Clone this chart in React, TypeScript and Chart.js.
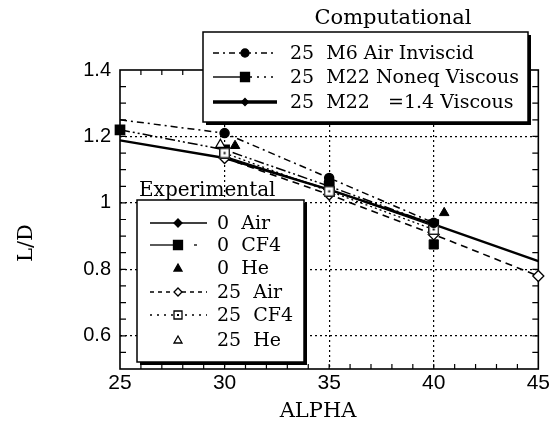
import React, { useEffect, useRef } from 'react';
import { Chart, registerables } from 'chart.js';

Chart.register(...registerables);

// ---- tick labels ----
const xTickValues = [25, 30, 35, 40, 45];
const xTickLabels = ['25', '30', '35', '40', '45'];
const yTickValues = [0.6, 0.8, 1.0, 1.2, 1.4];
const yTickLabels = ['0.6', '0.8', '1', '1.2', '1.4'];

// ---- computational (alpha = 25 deg sideslip series) ----
const compAlpha = [25, 30, 35, 40, 45];
const m6AirInviscid = [1.25, 1.21, 1.075, 0.94, null];
const m22NoneqViscous = [1.22, 1.16, 1.05, 0.935, null];
const m22Gamma14Viscous = [1.188, 1.135, 1.04, 0.935, 0.825];

// ---- experimental ----
const air0Alpha = [30, 35, 40];
const air0LD = [1.14, 1.04, 0.93];
const cf40Alpha = [30, 35, 40];
const cf40LD = [1.155, 1.055, 0.875];
const he0Alpha = [30.5, 40.5];
const he0LD = [1.172, 0.97];
const air25Alpha = [30, 35, 40, 45];
const air25LD = [1.135, 1.025, 0.905, 0.78];
const cf425Alpha = [30, 35, 40];
const cf425LD = [1.15, 1.035, 0.92];
const he25Alpha = [29.8];
const he25LD = [1.175];

const compTitle = 'Computational';
const compLabels = ['25  M6 Air Inviscid', '25  M22 Noneq Viscous', '25  M22   =1.4 Viscous'];
const expTitle = 'Experimental';
const expLabels = ['0  Air', '0  CF4', '0  He', '25  Air', '25  CF4', '25  He'];
const xTitle = 'ALPHA';
const yTitle = 'L/D';

const SERIF = '"DejaVu Serif", serif';
const SANS = '"Liberation Sans", Arial, sans-serif';

const pts = (xs: number[], ys: (number | null)[]) => xs.map((x, i) => ({ x, y: ys[i] }));

function makeDotSquare(): HTMLCanvasElement {
  const c = document.createElement('canvas');
  c.width = 11;
  c.height = 11;
  const g = c.getContext('2d')!;
  g.fillStyle = '#fff';
  g.fillRect(0, 0, 11, 11);
  g.strokeStyle = '#000';
  g.lineWidth = 1.3;
  g.strokeRect(0.75, 0.75, 9.5, 9.5);
  g.fillStyle = '#000';
  g.fillRect(4.5, 4.5, 2, 2);
  return c;
}

function marker(ctx: CanvasRenderingContext2D, kind: string, x: number, y: number, r: number, filled: boolean) {
  ctx.save();
  ctx.setLineDash([]);
  ctx.lineWidth = 1.3;
  ctx.strokeStyle = '#000';
  ctx.fillStyle = filled ? '#000' : '#fff';
  ctx.beginPath();
  if (kind === 'circle') ctx.arc(x, y, r, 0, Math.PI * 2);
  else if (kind === 'rect') ctx.rect(x - r, y - r, 2 * r, 2 * r);
  else if (kind === 'diamond') {
    ctx.moveTo(x, y - r); ctx.lineTo(x + r, y); ctx.lineTo(x, y + r); ctx.lineTo(x - r, y); ctx.closePath();
  } else if (kind === 'triangle') {
    ctx.moveTo(x, y - r); ctx.lineTo(x + r, y + r * 0.75); ctx.lineTo(x - r, y + r * 0.75); ctx.closePath();
  }
  ctx.fill();
  ctx.stroke();
  if (kind === 'rect' && !filled) {
    ctx.fillStyle = '#000';
    ctx.fillRect(x - 1, y - 1, 2, 2);
  }
  ctx.restore();
}

function sampleLine(ctx: CanvasRenderingContext2D, x1: number, x2: number, y: number, dash: number[], width: number) {
  ctx.save();
  ctx.strokeStyle = '#000';
  ctx.lineWidth = width;
  ctx.setLineDash(dash);
  ctx.beginPath();
  ctx.moveTo(x1, y);
  ctx.lineTo(x2, y);
  ctx.stroke();
  ctx.restore();
}

const decorPlugin = {
  id: 'decor',
  beforeDatasetsDraw(chart: any) {
    const { ctx, chartArea: a, scales } = chart;
    ctx.save();
    ctx.strokeStyle = '#000';
    ctx.lineWidth = 1.6;
    ctx.strokeRect(a.left, a.top, a.right - a.left, a.bottom - a.top);
    ctx.lineWidth = 1.2;
    ctx.beginPath();
    for (let i = 1; i < 20; i++) {
      const px = scales.x.getPixelForValue(25 + i);
      ctx.moveTo(px, a.bottom); ctx.lineTo(px, a.bottom - 5);
      ctx.moveTo(px, a.top); ctx.lineTo(px, a.top + 5);
    }
    for (let i = 1; i < 18; i++) {
      const py = scales.y.getPixelForValue(0.5 + i * 0.05);
      ctx.moveTo(a.left, py); ctx.lineTo(a.left + 6, py);
      ctx.moveTo(a.right, py); ctx.lineTo(a.right - 6, py);
    }
    ctx.stroke();
    ctx.restore();
  },
  afterDraw(chart: any) {
    const ctx: CanvasRenderingContext2D = chart.ctx;
    ctx.save();
    // axis titles
    ctx.fillStyle = '#000';
    ctx.font = `21px ${SERIF}`;
    ctx.textAlign = 'center';
    ctx.textBaseline = 'middle';
    ctx.fillText(xTitle, 310, 404);
    ctx.save();
    ctx.translate(19, 235);
    ctx.rotate(-Math.PI / 2);
    ctx.fillText(yTitle, 0, 0);
    ctx.restore();

    // computational legend
    const b1 = { l: 195, t: 24, r: 520, b: 114 };
    ctx.fillStyle = '#000';
    ctx.fillRect(b1.l + 3, b1.t + 3, b1.r - b1.l, b1.b - b1.t);
    ctx.fillStyle = '#fff';
    ctx.fillRect(b1.l, b1.t, b1.r - b1.l, b1.b - b1.t);
    ctx.strokeStyle = '#000';
    ctx.lineWidth = 1.5;
    ctx.strokeRect(b1.l, b1.t, b1.r - b1.l, b1.b - b1.t);
    ctx.fillStyle = '#000';
    ctx.font = `21px ${SERIF}`;
    ctx.textAlign = 'center';
    ctx.textBaseline = 'middle';
    ctx.fillText(compTitle, 385, 11);
    ctx.font = `19px ${SERIF}`;
    ctx.textAlign = 'left';
    const r1 = [45, 69, 94];
    sampleLine(ctx, 205, 269, r1[0], [6, 4, 2, 4], 1.4);
    marker(ctx, 'circle', 237, r1[0], 4, true);
    sampleLine(ctx, 205, 232, r1[1], [], 1.4);
    sampleLine(ctx, 242, 269, r1[1], [2, 5], 1.4);
    marker(ctx, 'rect', 237, r1[1], 4.5, true);
    sampleLine(ctx, 205, 269, r1[2], [], 3.5);
    marker(ctx, 'diamond', 237, r1[2], 3.5, true);
    ctx.fillStyle = '#000';
    compLabels.forEach((t, i) => ctx.fillText(t, 282, r1[i] + 1));

    // experimental legend
    ctx.font = `20px ${SERIF}`;
    ctx.textBaseline = 'alphabetic';
    ctx.fillText(expTitle, 131, 188);
    ctx.font = `19px ${SERIF}`;
    const b2 = { l: 129, t: 192, r: 296, b: 354 };
    ctx.fillRect(b2.l + 3, b2.t + 3, b2.r - b2.l, b2.b - b2.t);
    ctx.fillStyle = '#fff';
    ctx.fillRect(b2.l, b2.t, b2.r - b2.l, b2.b - b2.t);
    ctx.strokeRect(b2.l, b2.t, b2.r - b2.l, b2.b - b2.t);
    const r2 = [215, 237, 260, 284, 307, 332];
    sampleLine(ctx, 142, 199, r2[0], [], 1.3);
    marker(ctx, 'diamond', 170, r2[0], 4, true);
    sampleLine(ctx, 142, 165, r2[1], [], 1.3);
    sampleLine(ctx, 186, 189, r2[1], [], 1.3);
    marker(ctx, 'rect', 170, r2[1], 4.5, true);
    marker(ctx, 'triangle', 170, r2[2], 4, true);
    sampleLine(ctx, 142, 199, r2[3], [4, 4], 1.3);
    marker(ctx, 'diamond', 170, r2[3], 4, false);
    sampleLine(ctx, 142, 199, r2[4], [2, 5], 1.3);
    marker(ctx, 'rect', 170, r2[4], 4, false);
    marker(ctx, 'triangle', 170, r2[5], 4, false);
    ctx.fillStyle = '#000';
    ctx.textBaseline = 'middle';
    expLabels.forEach((t, i) => ctx.fillText(t, 209, r2[i] + 1));
    ctx.restore();
  },
};

export default function App() {
  const ref = useRef<HTMLCanvasElement>(null);
  useEffect(() => {
    if (!ref.current) return;
    const dotSquare = makeDotSquare();
    const base = { borderColor: '#000', pointBorderColor: '#000', clip: false as any, tension: 0, fill: false };
    const chart = new Chart(ref.current, {
      type: 'line',
      data: {
        datasets: [
          { ...base, label: expLabels[2], data: pts(he0Alpha, he0LD), showLine: false, pointStyle: 'triangle', pointRadius: 5.5, pointBackgroundColor: '#000', pointBorderWidth: 1 },
          { ...base, label: expLabels[5], data: pts(he25Alpha, he25LD), showLine: false, pointStyle: 'triangle', pointRadius: 5.5, pointBackgroundColor: '#fff', pointBorderWidth: 1.3 },
          { ...base, label: compLabels[0], data: pts(compAlpha, m6AirInviscid), borderWidth: 1.5, borderDash: [7, 4, 2, 4], pointStyle: 'circle', pointRadius: [0, 4.5, 4.5, 4.5, 0], pointBackgroundColor: '#000' },
          { ...base, label: expLabels[4], data: pts(cf425Alpha, cf425LD), borderWidth: 1.3, borderDash: [2, 3], pointStyle: dotSquare as any, pointRadius: 5 },
          { ...base, label: expLabels[3], data: pts(air25Alpha, air25LD), borderWidth: 1.6, borderDash: [7, 5], pointStyle: 'rectRot', pointRadius: 5.5, pointBackgroundColor: '#fff', pointBorderWidth: 1.3 },
          { ...base, label: expLabels[1], data: pts(cf40Alpha, cf40LD), showLine: false, pointStyle: 'rect', pointRadius: 6.5, pointBackgroundColor: '#000' },
          { ...base, label: compLabels[1], data: pts(compAlpha, m22NoneqViscous), borderWidth: 1.5, borderDash: [10, 3, 2, 3, 2, 3], pointStyle: 'rect', pointRadius: 6.5, pointBackgroundColor: '#000' },
          { ...base, label: expLabels[0], data: pts(air0Alpha, air0LD), borderWidth: 1.2, pointStyle: 'rectRot', pointRadius: 4.5, pointBackgroundColor: '#000' },
          { ...base, label: compLabels[2], data: pts(compAlpha, m22Gamma14Viscous), borderWidth: 2.4, pointRadius: 0 },
        ],
      },
      options: {
        animation: false,
        responsive: false,
        events: [],
        layout: { padding: { top: 62, right: 10, left: 0, bottom: 0 } },
        plugins: { legend: { display: false }, tooltip: { enabled: false } },
        scales: {
          x: {
            type: 'linear',
            min: 25,
            max: 45,
            afterBuildTicks: (s: any) => { s.ticks = xTickValues.map((v) => ({ value: v })); },
            afterFit: (s: any) => { s.height = 51; },
            border: { display: false, dash: [2, 3] },
            grid: {
              drawTicks: false,
              color: (c: any) => (c.tick && c.tick.value > 25 && c.tick.value < 45 ? '#000' : 'rgba(0,0,0,0)'),
              lineWidth: 1.2,
            },
            ticks: {
              color: '#000',
              padding: 2,
              maxRotation: 0,
              autoSkip: false,
              font: { family: SANS, size: 21 },
              callback: (v: any) => { const i = xTickValues.indexOf(Number(v)); return i >= 0 ? xTickLabels[i] : ''; },
            },
          },
          y: {
            type: 'linear',
            min: 0.5,
            max: 1.4,
            afterBuildTicks: (s: any) => { s.ticks = yTickValues.map((v) => ({ value: v })); },
            afterFit: (s: any) => { s.width = 112; },
            border: { display: false, dash: [2, 3] },
            grid: {
              drawTicks: false,
              color: (c: any) => (c.tick && c.tick.value > 0.55 && c.tick.value < 1.35 ? '#000' : 'rgba(0,0,0,0)'),
              lineWidth: 1.2,
            },
            ticks: {
              color: '#000',
              padding: 9,
              autoSkip: false,
              font: { family: SANS, size: 20 },
              callback: (v: any) => { const i = yTickValues.findIndex((t) => Math.abs(t - Number(v)) < 1e-6); return i >= 0 ? yTickLabels[i] : ''; },
            },
          },
        },
      } as any,
      plugins: [decorPlugin],
    });
    return () => chart.destroy();
  }, []);
  return <canvas ref={ref} width={544} height={412} style={{ display: 'block' }} />;
}
